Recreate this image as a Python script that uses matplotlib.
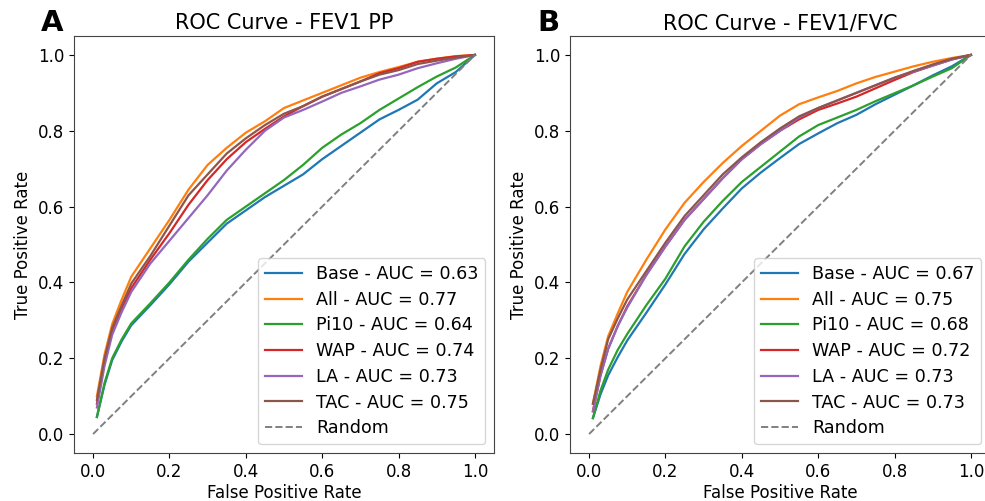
import matplotlib
matplotlib.use("Agg")
import matplotlib.pyplot as plt

fpr = [0.01, 0.03, 0.05, 0.075, 0.1, 0.15, 0.2, 0.25, 0.3, 0.35, 0.4, 0.45,
       0.5, 0.55, 0.6, 0.65, 0.7, 0.75, 0.8, 0.85, 0.9, 0.95, 1.0]

labels = ["Base", "All", "Pi10", "WAP", "LA", "TAC"]
colors = ["#1f77b4", "#ff7f0e", "#2ca02c", "#d62728", "#9467bd", "#8c564b"]

# Panel A - FEV1 PP
auc_a = [0.63, 0.77, 0.64, 0.74, 0.73, 0.75]
base_a = [0.045, 0.13, 0.195, 0.245, 0.287, 0.34, 0.395, 0.455, 0.505, 0.555, 0.59, 0.625,
          0.655, 0.685, 0.725, 0.76, 0.795, 0.83, 0.855, 0.882, 0.925, 0.955, 1.0]
all_a = [0.10, 0.21, 0.29, 0.355, 0.415, 0.49, 0.565, 0.645, 0.71, 0.755, 0.795, 0.825,
         0.86, 0.88, 0.90, 0.92, 0.94, 0.955, 0.968, 0.982, 0.99, 0.997, 1.0]
pi10_a = [0.045, 0.135, 0.2, 0.25, 0.292, 0.345, 0.40, 0.46, 0.515, 0.565, 0.60, 0.635,
          0.67, 0.71, 0.755, 0.79, 0.82, 0.855, 0.885, 0.915, 0.943, 0.967, 1.0]
wap_a = [0.08, 0.19, 0.27, 0.33, 0.385, 0.46, 0.53, 0.605, 0.67, 0.725, 0.77, 0.805,
         0.838, 0.865, 0.89, 0.91, 0.93, 0.952, 0.965, 0.982, 0.99, 0.996, 1.0]
la_a = [0.07, 0.18, 0.262, 0.322, 0.375, 0.45, 0.51, 0.57, 0.63, 0.695, 0.75, 0.80,
        0.835, 0.855, 0.877, 0.90, 0.917, 0.935, 0.948, 0.965, 0.978, 0.99, 1.0]
tac_a = [0.09, 0.20, 0.28, 0.34, 0.397, 0.47, 0.55, 0.63, 0.685, 0.74, 0.78, 0.815,
         0.845, 0.865, 0.89, 0.91, 0.93, 0.948, 0.96, 0.976, 0.985, 0.993, 1.0]

# Panel B - FEV1/FVC
auc_b = [0.67, 0.75, 0.68, 0.72, 0.73, 0.73]
base_b = [0.042, 0.105, 0.155, 0.203, 0.247, 0.32, 0.395, 0.475, 0.54, 0.595, 0.648, 0.69,
          0.728, 0.765, 0.793, 0.82, 0.842, 0.87, 0.895, 0.92, 0.946, 0.97, 1.0]
all_b = [0.08, 0.18, 0.258, 0.318, 0.375, 0.46, 0.54, 0.61, 0.665, 0.715, 0.76, 0.80,
         0.84, 0.87, 0.888, 0.905, 0.925, 0.942, 0.956, 0.97, 0.982, 0.992, 1.0]
pi10_b = [0.042, 0.115, 0.17, 0.222, 0.264, 0.34, 0.41, 0.495, 0.56, 0.615, 0.665, 0.705,
          0.745, 0.785, 0.815, 0.835, 0.855, 0.878, 0.899, 0.92, 0.943, 0.965, 1.0]
wap_b = [0.06, 0.155, 0.225, 0.285, 0.337, 0.42, 0.495, 0.565, 0.62, 0.675, 0.725, 0.765,
         0.80, 0.83, 0.855, 0.872, 0.89, 0.912, 0.934, 0.955, 0.972, 0.988, 1.0]
la_b = [0.06, 0.155, 0.225, 0.285, 0.334, 0.42, 0.495, 0.565, 0.62, 0.675, 0.725, 0.765,
        0.80, 0.835, 0.86, 0.88, 0.90, 0.92, 0.94, 0.956, 0.972, 0.988, 1.0]
tac_b = [0.08, 0.17, 0.25, 0.305, 0.355, 0.43, 0.505, 0.575, 0.63, 0.685, 0.73, 0.77,
         0.806, 0.838, 0.86, 0.88, 0.90, 0.92, 0.94, 0.958, 0.975, 0.99, 1.0]

random_line = [0.0, 1.0]
ticks = [0.0, 0.2, 0.4, 0.6, 0.8, 1.0]

panels = [
    ("ROC Curve - FEV1 PP", "A", auc_a, [base_a, all_a, pi10_a, wap_a, la_a, tac_a]),
    ("ROC Curve - FEV1/FVC", "B", auc_b, [base_b, all_b, pi10_b, wap_b, la_b, tac_b]),
]

W, H = 985, 501
fig = plt.figure(figsize=(W / 100, H / 100), dpi=100)

ax_left_px = [74, 570]
ax_w_px, ax_h_px = 420, 417
ax_bottom_px = 48

for i, (title, letter, aucs, series) in enumerate(panels):
    ax = fig.add_axes([ax_left_px[i] / W, ax_bottom_px / H, ax_w_px / W, ax_h_px / H])
    for lab, col, auc, tpr in zip(labels, colors, aucs, series):
        ax.plot(fpr, tpr, color=col, lw=1.6, label=f"{lab} - AUC = {auc:.2f}")
    ax.plot(random_line, random_line, linestyle="--", color="gray", lw=1.4, label="Random")
    ax.set_xticks(ticks)
    ax.set_yticks(ticks)
    ax.tick_params(labelsize=12)
    ax.set_xlabel("False Positive Rate", fontsize=12, labelpad=2)
    ax.set_ylabel("True Positive Rate", fontsize=12, labelpad=4)
    ax.set_title(title, fontsize=15, pad=5)
    ax.legend(loc="lower right", fontsize=12.6, labelspacing=0.44, handlelength=2.1)
    for s in ax.spines.values():
        s.set_color("#444444")
    fig.text((ax_left_px[i] - 22) / W, 1 - 23 / H, letter, fontsize=21, fontweight="bold",
             ha="center", va="center", family="DejaVu Sans")

fig.savefig("out.png", dpi=100)
